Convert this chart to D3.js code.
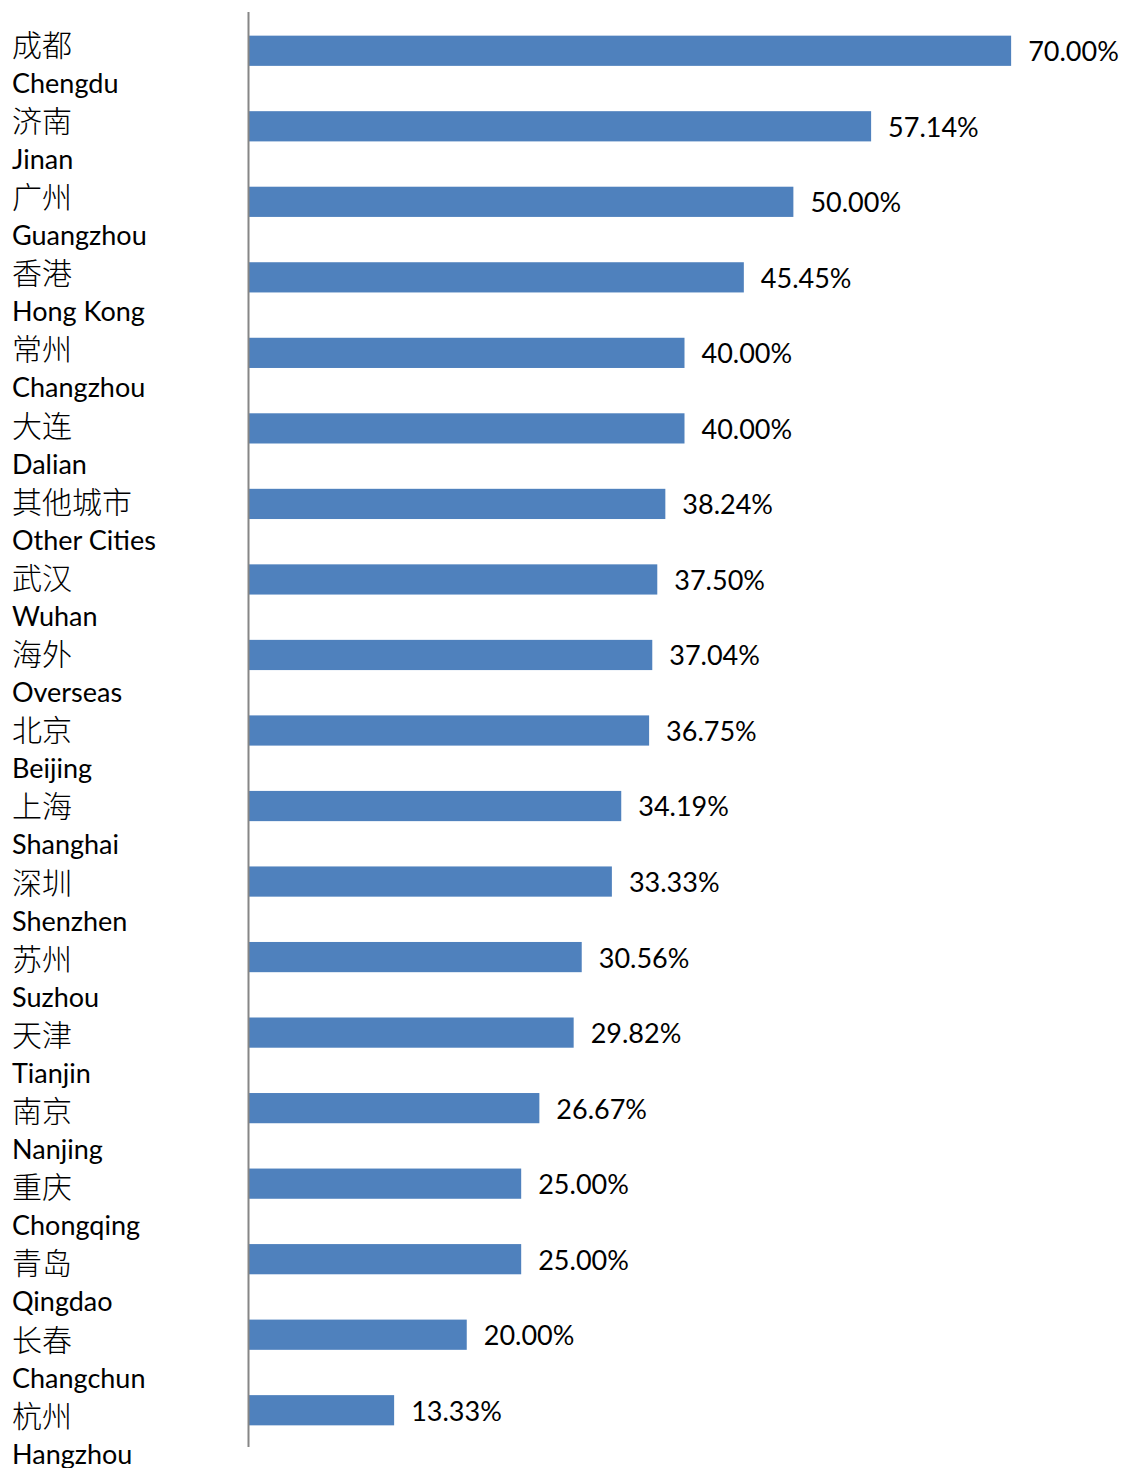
<!DOCTYPE html>
<html>
<head>
<meta charset="utf-8">
<script src="https://cdn.jsdelivr.net/npm/d3@7"></script>
<style>
  html, body { margin: 0; padding: 0; background: #fff; }
  svg { display: block; }
</style>
</head>
<body>
<svg id="chart" width="1122" height="1468"></svg>
<script>
// City names (Chinese / English) and their percentage values
const citiesZh = ["成都", "济南", "广州", "香港", "常州", "大连", "其他城市", "武汉", "海外", "北京",
                  "上海", "深圳", "苏州", "天津", "南京", "重庆", "青岛", "长春", "杭州"];
const citiesEn = ["Chengdu", "Jinan", "Guangzhou", "Hong Kong", "Changzhou", "Dalian", "Other Cities",
                  "Wuhan", "Overseas", "Beijing", "Shanghai", "Shenzhen", "Suzhou", "Tianjin",
                  "Nanjing", "Chongqing", "Qingdao", "Changchun", "Hangzhou"];
const values = [70.00, 57.14, 50.00, 45.45, 40.00, 40.00, 38.24, 37.50, 37.04, 36.75,
                34.19, 33.33, 30.56, 29.82, 26.67, 25.00, 25.00, 20.00, 13.33];

const svg = d3.select("#chart");

const x = d3.scaleLinear().domain([0, 80]).range([249, 1120]);
const y = d3.scaleBand().domain(d3.range(values.length)).range([13, 1448]).paddingInner(0.6).paddingOuter(0.3);
const labelY = d3.scalePoint().domain(d3.range(values.length)).range([45, 1416]);

const fmt = v => v.toFixed(2) + "%";

// bars
svg.append("g").selectAll("rect")
  .data(values)
  .join("rect")
  .attr("x", x(0))
  .attr("y", (d, i) => y(i))
  .attr("width", d => x(d) - x(0))
  .attr("height", y.bandwidth())
  .attr("fill", "#4f81bd");

// value labels
svg.append("g").selectAll("text")
  .data(values)
  .join("text")
  .attr("x", d => x(d) + 17)
  .attr("y", (d, i) => y(i) + y.bandwidth() / 2 + 1)
  .attr("dy", "0.35em")
  .attr("font-family", "Lato, 'Open Sans', sans-serif")
  .attr("font-size", 27)
  .attr("fill", "#000")
  .text(fmt);

// vertical category axis line
svg.append("line")
  .attr("x1", 248.5).attr("x2", 248.5)
  .attr("y1", 12).attr("y2", 1447)
  .attr("stroke", "#868686")
  .attr("stroke-width", 2);

// two-line category labels
const lab = svg.append("g").selectAll("g")
  .data(citiesZh)
  .join("g")
  .attr("transform", (d, i) => `translate(12,${labelY(i)})`);

lab.append("text")
  .attr("dy", "0.36em")
  .attr("font-family", "'Noto Sans CJK SC', sans-serif")
  .attr("font-weight", 300)
  .attr("font-size", 30)
  .attr("fill", "#000")
  .text(d => d);

lab.append("text")
  .attr("y", 38)
  .attr("dy", "0.36em")
  .attr("font-family", "Lato, 'Open Sans', sans-serif")
  .attr("font-size", 27)
  .attr("fill", "#000")
  .text((d, i) => citiesEn[i]);
</script>
</body>
</html>
